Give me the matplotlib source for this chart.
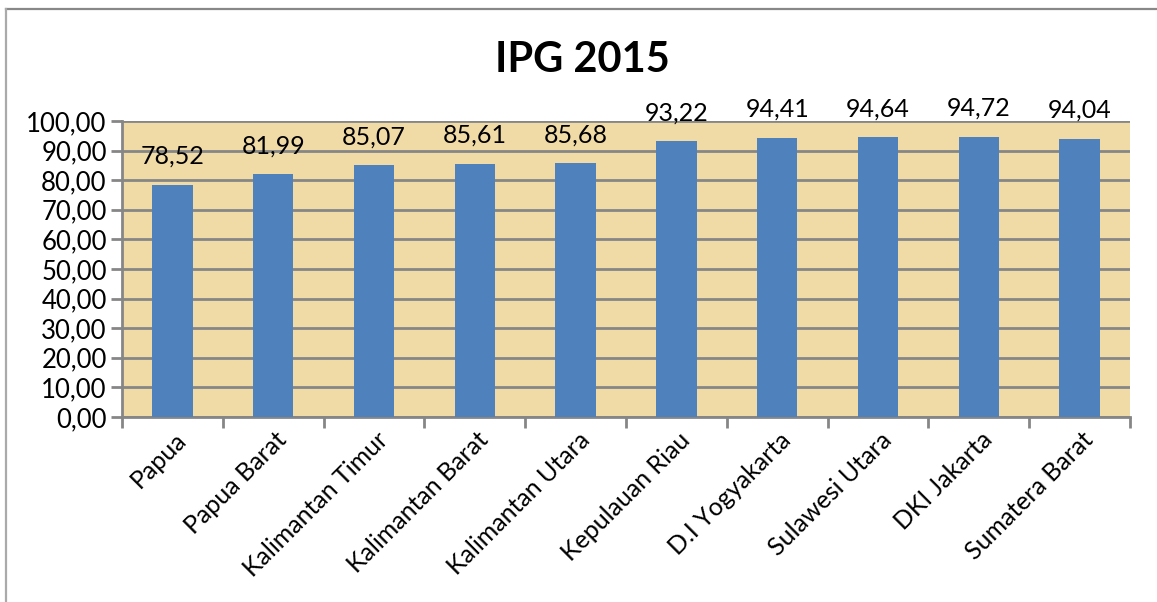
import matplotlib
matplotlib.use("Agg")
import matplotlib.pyplot as plt
from matplotlib.lines import Line2D
from matplotlib.ticker import FuncFormatter, MultipleLocator
import numpy as np

plt.rcParams['font.family'] = ['Lato', 'DejaVu Sans']

provinces = ["Papua", "Papua Barat", "Kalimantan Timur", "Kalimantan Barat",
             "Kalimantan Utara", "Kepulauan Riau", "D.I Yogyakarta",
             "Sulawesi Utara", "DKI Jakarta", "Sumatera Barat"]
ipg = [78.52, 81.99, 85.07, 85.61, 85.68, 93.22, 94.41, 94.64, 94.72, 94.04]

fig = plt.figure(figsize=(11.57, 6.02), dpi=100)
ax = fig.add_axes([0.1054, 0.3073, 0.8713, 0.4917])

x = np.arange(len(provinces))
ax.set_facecolor("#F0DAA6")
ax.bar(x, ipg, width=0.4, color="#4F81BD", zorder=3)

# data labels in comma-decimal style
for xi, v in zip(x, ipg):
    ax.annotate(f"{v:.2f}".replace(".", ","), (xi, v), xytext=(0, 12),
                textcoords="offset points", ha="center", va="bottom",
                fontsize=18, zorder=4)

ax.set_xlim(-0.5, len(provinces) - 0.5)
ax.set_ylim(0, 100)
ax.yaxis.set_major_locator(MultipleLocator(10))
ax.yaxis.set_major_formatter(FuncFormatter(lambda v, p: f"{v:.2f}".replace(".", ",")))
ax.grid(axis="y", color="#868686", linewidth=2, zorder=1)

# category ticks sit between bars
ax.set_xticks(np.arange(-0.5, len(provinces), 1.0))
ax.set_xticklabels([])
ax.set_xticks(x + 0.02, minor=True)
ax.set_xticklabels(provinces, minor=True, rotation=45, ha="right",
                   rotation_mode="anchor", fontsize=18)
ax.tick_params(axis="x", which="minor", length=0, pad=8)
ax.tick_params(axis="x", which="major", length=8, width=2, color="#868686")
ax.tick_params(axis="y", length=8, width=2, color="#868686", labelsize=18.5, pad=3)

for side in ["top", "right"]:
    ax.spines[side].set_visible(False)
for side in ["left", "bottom"]:
    ax.spines[side].set_color("#868686")
    ax.spines[side].set_linewidth(2)

fig.text(0.503, 0.90, "IPG 2015", ha="center", va="center",
         fontsize=30, fontweight="bold")

# outer chart border (top and left visible)
fig.add_artist(Line2D([0.0052, 1.0], [0.9850, 0.9850], color="#888888", linewidth=1.6))
fig.add_artist(Line2D([0.0052, 0.0052], [0.0, 0.9850], color="#AAAAAA", linewidth=1.6))

fig.savefig("out.png", dpi=100)
